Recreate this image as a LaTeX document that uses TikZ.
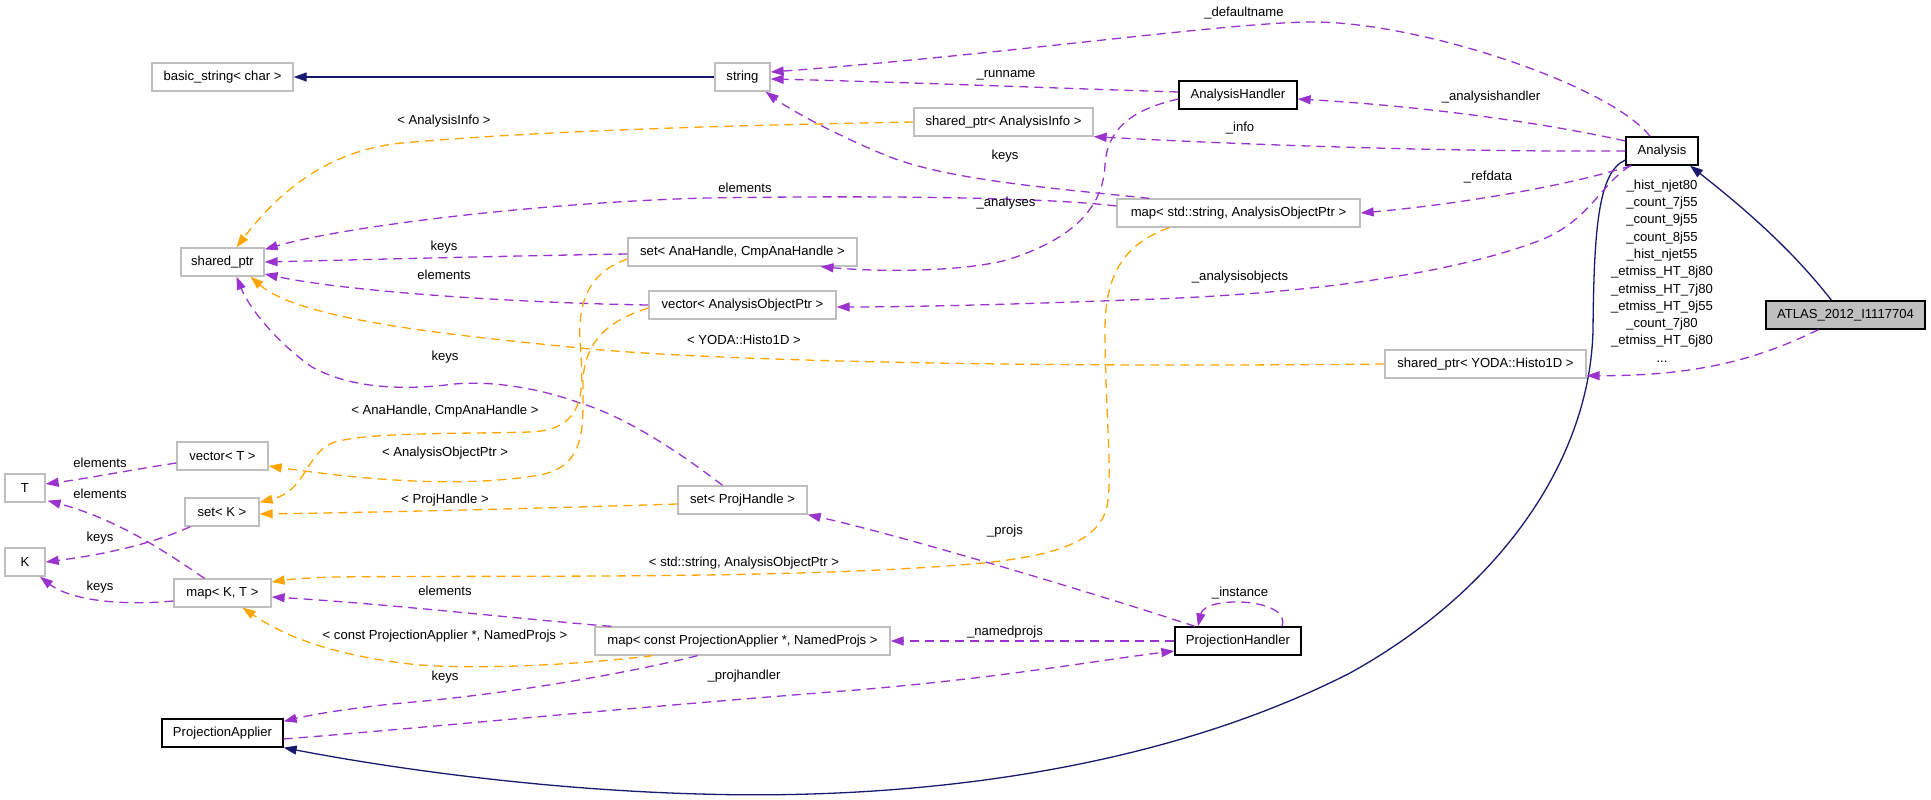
\documentclass[tikz,border=0pt]{standalone}
\usepackage{fontspec}
\setmainfont{Liberation Sans}
\usetikzlibrary{arrows.meta,calc}
\definecolor{edgepurple}{HTML}{9A32CD}
\definecolor{edgeorange}{HTML}{FFA500}
\definecolor{edgenavy}{HTML}{191970}
\definecolor{boxgray}{HTML}{BFBFBF}
\begin{document}
\begin{tikzpicture}[x=1pt,y=-1pt,
  font=\fontsize{13.1}{15}\selectfont,
  box/.style={draw=boxgray, line width=1.3pt, minimum height=28pt, inner sep=0pt, fill=white},
  docbox/.style={box, draw=black},
  lbl/.style={inner sep=0pt},
  tipstyle/.style={-{Triangle[length=13pt,width=9pt]}},
  pe/.style={draw=edgepurple, line width=1.3pt, dash pattern=on 9pt off 6pt, tipstyle, tipcol=edgepurple},
  oe/.style={draw=edgeorange, line width=1.3pt, dash pattern=on 9pt off 6pt, tipstyle},
  ne/.style={draw=edgenavy, line width=1.3pt, tipstyle},
  tipcol/.style={}
]
\useasboundingbox (0,0) rectangle (1931,800);

% nodes
\node[box, minimum width=141pt] (basic) at (222.5,77) {basic\_string< char >};
\node[box, minimum width=55pt] (str) at (742.5,77) {string};
\node[docbox, minimum width=118pt] (AH) at (1238,95) {AnalysisHandler};
\node[box, minimum width=179pt] (sAI) at (1003.5,122) {shared\_ptr< AnalysisInfo >};
\node[docbox, minimum width=72pt] (An) at (1662,151) {Analysis};
\node[box, minimum width=243pt] (mSA) at (1238.5,213) {map< std::string, AnalysisObjectPtr >};
\node[box, minimum width=83pt] (sp) at (222.5,262) {shared\_ptr};
\node[box, minimum width=229pt] (sAna) at (742.5,252) {set< AnaHandle, CmpAnaHandle >};
\node[box, minimum width=187pt] (vAOP) at (742.5,305) {vector< AnalysisObjectPtr >};
\node[docbox, fill=boxgray, minimum width=159pt] (AT) at (1845.5,315) {ATLAS\_2012\_I1117704};
\node[box, minimum width=201pt] (sY) at (1485.5,364) {shared\_ptr< YODA::Histo1D >};
\node[box, minimum width=91pt] (vT) at (222.5,456) {vector< T >};
\node[box, minimum width=40pt] (T) at (25,488) {T};
\node[box, minimum width=74pt] (sK) at (222,512) {set< K >};
\node[box, minimum width=129pt] (sPH) at (742.5,500) {set< ProjHandle >};
\node[box, minimum width=40pt] (K) at (25,562) {K};
\node[box, minimum width=97pt] (mKT) at (222.5,593) {map< K, T >};
\node[box, minimum width=295pt] (mPA) at (742.5,641) {map< const ProjectionApplier *, NamedProjs >};
\node[docbox, minimum width=126pt] (PH) at (1238,641) {ProjectionHandler};
\node[docbox, minimum width=121pt] (PA) at (222.5,733) {ProjectionApplier};

% inheritance
\draw[ne] (str.west) -- (basic.east);
\draw[ne] ($(AT.north)+(-14,0)$) .. controls (1790,247) and (1740,205) .. ($(An.south)+(28,0)$);
\draw[ne] ($(An.west)+(0,9)$) .. controls (1598,172) and (1594,230) .. (1593,330)
  .. controls (1590,460) and (1500,590) .. (1350,673)
  .. controls (1150,775) and (900,800) .. (700,794)
  .. controls (550,790) and (400,770) .. (PA.south east);

% usage edges
\draw[pe] ($(An.north)+(-12,0)$) .. controls (1610,85) and (1420,22) .. (1313,22)
  .. controls (1230,22) and (1000,55) .. ($(str.east)+(0,-5)$);
\draw[pe] ($(AH.west)+(0,-3)$) .. controls (1050,88) and (900,82) .. ($(str.east)+(0,2)$);
\draw[pe] ($(An.west)+(0,-10)$) .. controls (1540,122) and (1420,106) .. ($(AH.east)+(0,4)$);
\draw[pe] (An.west) .. controls (1450,152) and (1250,145) .. (sAI.south east);
\draw[pe] ($(AH.west)+(0,4)$) .. controls (1130,110) and (1107,130) .. (1105,165)
  .. controls (1103,210) and (1070,240) .. (1007,260)
  .. controls (960,272) and (880,272) .. ($(sAna.south)+(78,0)$);
\draw[pe] ($(An.south west)+(6,0)$) .. controls (1560,188) and (1450,205) .. (mSA.east);
\draw[pe] ($(An.south west)+(5,0)$) .. controls (1600,185) and (1590,220) .. (1541,240)
  .. controls (1450,275) and (1300,295) .. (1127,300)
  .. controls (1000,305) and (900,307) .. ($(vAOP.east)+(0,2)$);
\draw[pe] ($(AT.south)+(-27,0)$) .. controls (1760,358) and (1700,376) .. ($(sY.south east)+(0,-3)$);
\draw[pe] ($(mSA.north west)+(33,0)$) .. controls (1050,188) and (950,180) .. (890,157)
  .. controls (840,137) and (790,110) .. ($(str.south east)+(-5,0)$);
\draw[pe] ($(mSA.west)+(0,-7)$) .. controls (1050,198) and (900,195) .. (707,198)
  .. controls (550,202) and (350,225) .. ($(sp.north east)+(0,2)$);
\draw[oe] (sAI.west) .. controls (750,125) and (550,130) .. (402,143)
  .. controls (330,150) and (280,190) .. ($(sp.north)+(14,0)$);
\draw[pe] ($(sAna.west)+(0,2)$) .. controls (500,256) and (350,260) .. (sp.east);
\draw[pe] (vAOP.west) .. controls (520,303) and (350,292) .. ($(sp.east)+(0,12)$);
\draw[oe] (sY.west) .. controls (1000,368) and (700,360) .. (580,348)
  .. controls (450,335) and (300,320) .. ($(sp.south)+(28,0)$);
\draw[pe] ($(sPH.north)+(-20,0)$) .. controls (670,445) and (620,415) .. (580,403)
  .. controls (530,385) and (480,380) .. (446,385)
  .. controls (400,390) and (350,388) .. (312,367)
  .. controls (280,345) and (250,310) .. ($(sp.south)+(14,0)$);
\draw[oe] ($(sAna.west)+(0,7)$) .. controls (590,272) and (578,300) .. (580,340)
  .. controls (582,380) and (592,430) .. (530,432)
  .. controls (460,434) and (370,432) .. (335,442)
  .. controls (305,452) and (308,490) .. ($(sK.north east)+(0,5)$);
\draw[oe] ($(vAOP.west)+(0,3)$) .. controls (610,320) and (585,340) .. (583,380)
  .. controls (582,420) and (590,465) .. (540,475)
  .. controls (480,485) and (400,485) .. ($(vT.east)+(0,10)$);
\draw[oe] ($(sPH.west)+(0,4)$) .. controls (550,508) and (400,512) .. ($(sK.east)+(0,2)$);
\draw[pe] ($(vT.west)+(0,7)$) .. controls (130,470) and (90,478) .. ($(T.east)+(0,-4)$);
\draw[pe] ($(mKT.north)+(-18,0)$) .. controls (170,555) and (120,520) .. ($(T.south east)+(2,-2)$);
\draw[pe] ($(sK.south west)+(6,0)$) .. controls (150,545) and (100,555) .. (K.east);
\draw[pe] ($(mKT.west)+(0,8)$) .. controls (120,606) and (70,600) .. ($(K.south)+(15,0)$);
\draw[oe] ($(mSA.south west)+(53,0)$) .. controls (1120,245) and (1105,280) .. (1105,330)
  .. controls (1105,400) and (1112,470) .. (1108,500)
  .. controls (1104,540) and (1060,555) .. (983,563)
  .. controls (800,580) and (500,575) .. (335,577)
  .. controls (300,578) and (285,580) .. ($(mKT.east)+(0,-11)$);
\draw[pe] ($(mPA.north west)+(17,0)$) .. controls (530,620) and (390,604) .. ($(mKT.east)+(0,4)$);
\draw[oe] ($(mPA.south)+(-90,0)$) .. controls (560,667) and (450,670) .. (402,663)
  .. controls (340,655) and (290,640) .. ($(mKT.south)+(20,0)$);
\draw[pe] ($(mPA.south)+(-45,0)$) .. controls (620,675) and (500,695) .. (402,703)
  .. controls (350,708) and (310,715) .. ($(PA.north east)+(0,3)$);
\draw[pe] ($(PH.north)+(-43,0)$) .. controls (1100,595) and (900,535) .. (sPH.south east);
\draw[pe] (PH.west) -- (mPA.east);
\draw[pe] ($(PA.east)+(0,6)$) .. controls (400,730) and (600,710) .. (856,690)
  .. controls (1000,678) and (1100,660) .. ($(PH.west)+(0,10)$);
\draw[pe] ($(PH.north)+(44,0)$) .. controls (1292,598) and (1205,595) .. ($(PH.north)+(-40,0)$);

% labels
\node[lbl] (l1) at (1244,13) {\_defaultname};
\node[lbl] (l2) at (1006,75) {\_runname};
\node[lbl] (l3) at (1491,97) {\_analysishandler};
\node[lbl] (l4) at (1240,128) {\_info};
\node[lbl] (l5) at (1005,156) {keys};
\node[lbl] (l6) at (745,188) {elements};
\node[lbl] (l7) at (1006,203) {\_analyses};
\node[lbl] (l8) at (1488,177) {\_refdata};
\node[lbl] (l9) at (1240,277) {\_analysisobjects};
\node[lbl] (l10) at (444,121) {< AnalysisInfo >};
\node[lbl] (l11) at (444,247) {keys};
\node[lbl] (l12) at (444,275) {elements};
\node[lbl] (l13) at (744,340) {< YODA::Histo1D >};
\node[lbl] (l14) at (445,357) {keys};
\node[lbl] (l15) at (445,411) {< AnaHandle, CmpAnaHandle >};
\node[lbl] (l16) at (445,453) {< AnalysisObjectPtr >};
\node[lbl] (l17) at (445,500) {< ProjHandle >};
\node[lbl] (l18) at (100,463) {elements};
\node[lbl] (l19) at (100,494) {elements};
\node[lbl] (l20) at (100,538) {keys};
\node[lbl] (l21) at (100,587) {keys};
\node[lbl] (l22) at (744,563) {< std::string, AnalysisObjectPtr >};
\node[lbl] (l23) at (445,591) {elements};
\node[lbl] (l24) at (445,636) {< const ProjectionApplier *, NamedProjs >};
\node[lbl] (l25) at (445,677) {keys};
\node[lbl] (l26) at (744,676) {\_projhandler};
\node[lbl] (l27) at (1005,531) {\_projs};
\node[lbl] (l28) at (1005,632) {\_namedprojs};
\node[lbl] (l29) at (1240,593) {\_instance};
\node[lbl, align=center, font=\fontsize{13.1}{17.3}\selectfont] (l30) at (1662,271)
  {\_hist\_njet80\\\_count\_7j55\\\_count\_9j55\\\_count\_8j55\\\_hist\_njet55\\\_etmiss\_HT\_8j80\\\_etmiss\_HT\_7j80\\\_etmiss\_HT\_9j55\\\_count\_7j80\\\_etmiss\_HT\_6j80\\...};
\end{tikzpicture}
\end{document}
